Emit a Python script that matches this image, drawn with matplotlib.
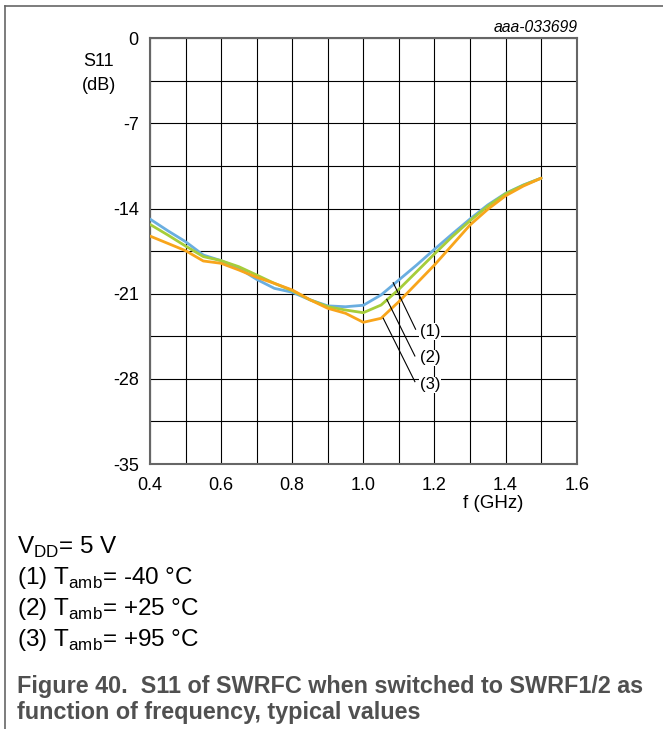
import numpy as np
import matplotlib.pyplot as plt

plt.rcParams['font.family'] = ['Liberation Sans', 'DejaVu Sans']
plt.rcParams['mathtext.fontset'] = 'custom'
plt.rcParams['mathtext.rm'] = 'Liberation Sans'
plt.rcParams['axes.unicode_minus'] = False

# data
freq = [0.40, 0.45, 0.50, 0.55, 0.60, 0.65, 0.70, 0.75, 0.80, 0.85, 0.90, 0.95,
        1.00, 1.05, 1.10, 1.15, 1.20, 1.25, 1.30, 1.35, 1.40, 1.45, 1.50]
s11_m40 = [-14.86, -15.82, -16.72, -17.82, -18.28, -18.91, -19.82, -20.56, -20.88, -21.50, -22.00, -22.07,
           -21.95, -21.10, -19.87, -18.64, -17.35, -16.09, -14.86, -13.70, -12.75, -12.06, -11.50]
s11_p25 = [-15.30, -16.17, -17.08, -17.95, -18.28, -18.78, -19.46, -20.15, -20.75, -21.50, -22.07, -22.34,
           -22.56, -21.93, -20.64, -19.19, -17.73, -16.31, -15.00, -13.80, -12.78, -12.08, -11.50]
s11_p95 = [-16.26, -16.86, -17.46, -18.31, -18.50, -19.05, -19.65, -20.15, -20.69, -21.50, -22.20, -22.61,
           -23.35, -23.02, -21.65, -20.15, -18.64, -17.00, -15.35, -14.06, -12.95, -12.15, -11.50]

xticks = [0.4, 0.6, 0.8, 1.0, 1.2, 1.4, 1.6]
yticks = [0, -7, -14, -21, -28, -35]

fig = plt.figure(figsize=(6.63, 7.29), dpi=100)
ax = fig.add_axes([0.2262, 0.3635, 0.8698 - 0.2262, 0.9475 - 0.3635])

ax.plot(freq, s11_m40, color='#6aaee0', lw=2.0, solid_capstyle='round', zorder=3)
ax.plot(freq, s11_p25, color='#a6cd3a', lw=2.0, solid_capstyle='round', zorder=3)
ax.plot(freq, s11_p95, color='#f8a51b', lw=2.0, solid_capstyle='round', zorder=3)

ax.set_xlim(0.4, 1.6)
ax.set_ylim(-35, 0)
ax.set_xticks(xticks)
ax.set_xticklabels(['%.1f' % v for v in xticks])
ax.set_xticks(np.arange(0.4, 1.61, 0.1), minor=True)
ax.set_yticks(yticks)
ax.set_yticks(np.arange(-35, 0.1, 3.5), minor=True)
ax.grid(which='both', color='black', lw=0.8)
ax.tick_params(which='both', length=0, labelsize=13)
ax.tick_params(axis='x', pad=9)
ax.tick_params(axis='y', pad=8)
for s in ax.spines.values():
    s.set_color('#666666')
    s.set_linewidth(1.5)

# curve labels with leader lines
leaders = [((1.084, -20.09), (1.147, -23.92), (1.187, -24.12), '(1)'),
           ((1.066, -21.46), (1.145, -26.12), (1.187, -26.28), '(2)'),
           ((1.056, -23.02), (1.145, -28.23), (1.187, -28.5), '(3)')]
for p0, p1, pt, lab in leaders:
    ax.plot([p0[0], p1[0]], [p0[1], p1[1]], color='black', lw=0.8, zorder=4)
    ax.text(pt[0], pt[1], lab, fontsize=12, ha='center', va='center', zorder=5,
            bbox=dict(facecolor='white', edgecolor='none', pad=0.5))

fig.text(99 / 663, 1 - 61 / 729, 'S11', fontsize=13, ha='center', va='center')
fig.text(99 / 663, 1 - 85 / 729, '(dB)', fontsize=13, ha='center', va='center')
fig.text(493 / 663, 1 - 503 / 729, 'f (GHz)', fontsize=13.5, ha='center', va='center')
fig.text(578 / 663, 1 - 27 / 729, 'aaa-033699', fontsize=11.3, style='italic', ha='right', va='center')

notes = [r'V$_{\mathrm{DD}}$= 5 V', r'(1) T$_{\mathrm{amb}}$= -40 °C',
         r'(2) T$_{\mathrm{amb}}$= +25 °C', r'(3) T$_{\mathrm{amb}}$= +95 °C']
for i, t in enumerate(notes):
    fig.text(17 / 663, 1 - (547 + 31 * i) / 729, t, fontsize=17.5, ha='left', va='center')

fig.text(17 / 663, 1 - 686 / 729, 'Figure 40.  S11 of SWRFC when switched to SWRF1/2 as',
         fontsize=16.8, fontweight='bold', color='#505050', ha='left', va='center')
fig.text(17 / 663, 1 - 712 / 729, 'function of frequency, typical values',
         fontsize=16.8, fontweight='bold', color='#505050', ha='left', va='center')

# frame lines on top and left
fig.add_artist(plt.Line2D([5 / 663, 1], [1 - 6 / 729, 1 - 6 / 729], color='#666666', lw=1.2))
fig.add_artist(plt.Line2D([5 / 663, 5 / 663], [0, 1 - 6 / 729], color='#666666', lw=1.2))

fig.savefig('out.png', dpi=100)
